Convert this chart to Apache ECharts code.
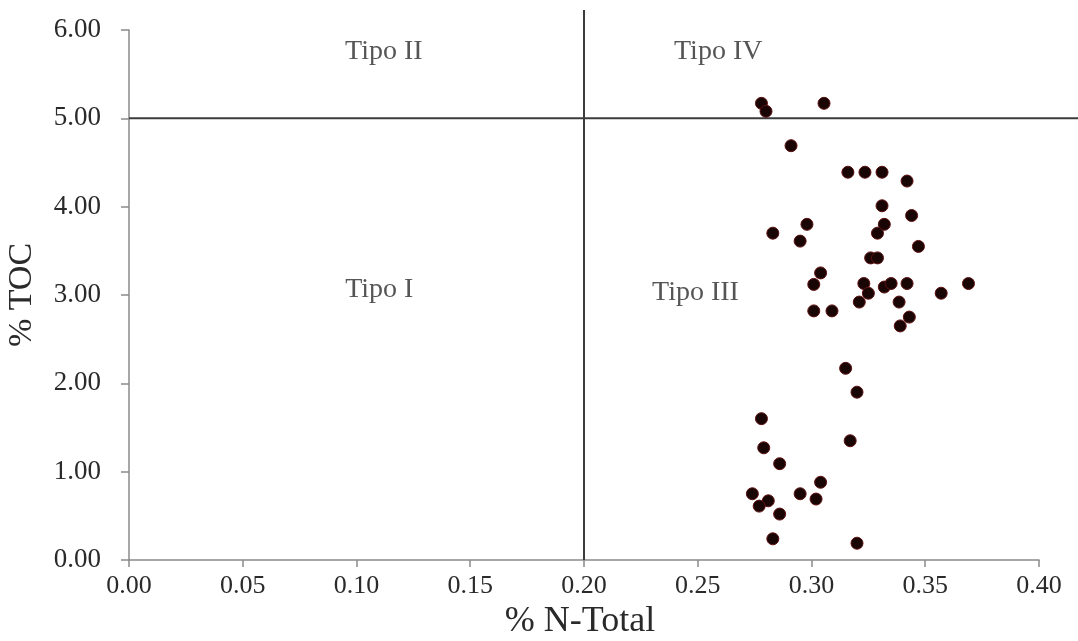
<!DOCTYPE html>
<html>
<head>
<meta charset="utf-8">
<script src="https://cdn.jsdelivr.net/npm/echarts@6/dist/echarts.min.js"></script>
<style>
  html, body { margin: 0; padding: 0; background: #ffffff; }
  #chart { width: 1078px; height: 641px; }
</style>
</head>
<body>
<div id="chart"></div>
<script>
// Total nitrogen (%) and total organic carbon (%) per sample
const nTotal = [
  0.278, 0.280, 0.3055, 0.291, 0.316, 0.3235, 0.331, 0.342, 0.331, 0.344,
  0.298, 0.332, 0.283, 0.329, 0.295, 0.347, 0.326, 0.329, 0.304, 0.301,
  0.323, 0.325, 0.332, 0.335, 0.342, 0.321, 0.3385, 0.357, 0.369, 0.301,
  0.309, 0.343, 0.339, 0.315, 0.320, 0.278, 0.317, 0.279, 0.286, 0.304,
  0.274, 0.295, 0.281, 0.277, 0.302, 0.286, 0.283, 0.320
];
const toc = [
  5.17, 5.08, 5.17, 4.69, 4.39, 4.39, 4.39, 4.29, 4.01, 3.90,
  3.80, 3.80, 3.70, 3.70, 3.61, 3.55, 3.42, 3.42, 3.25, 3.12,
  3.13, 3.02, 3.09, 3.13, 3.13, 2.92, 2.92, 3.02, 3.13, 2.82,
  2.82, 2.75, 2.65, 2.17, 1.90, 1.60, 1.35, 1.27, 1.09, 0.88,
  0.75, 0.75, 0.67, 0.61, 0.69, 0.52, 0.24, 0.19
];

// Quadrant names and where they sit (in data units)
const quadrantNames = ['Tipo II', 'Tipo IV', 'Tipo I', 'Tipo III'];
const quadrantX = [0.112, 0.259, 0.110, 0.249];
const quadrantY = [5.75, 5.75, 3.06, 3.03];

// Dividing thresholds
const nThreshold = 0.20;
const tocThreshold = 5.00;

const xTicks = { min: 0, max: 0.40, interval: 0.05 };
const yTicks = { min: 0, max: 6, interval: 1 };

const serif = '"Liberation Serif", "Times New Roman", serif';
const axisGray = '#8a8a8a';
const textColor = '#2a2a2a';

const chart = echarts.init(document.getElementById('chart'), null, { renderer: 'canvas' });

const points = nTotal.map((v, i) => [v, toc[i]]);
const labels = quadrantNames.map((n, i) => ({ name: n, value: [quadrantX[i], quadrantY[i]] }));

chart.setOption({
  animation: false,
  backgroundColor: '#ffffff',
  grid: { left: 129, right: 39, top: 30, bottom: 81, containLabel: false, outerBoundsMode: 'none' },
  xAxis: {
    type: 'value',
    min: xTicks.min, max: xTicks.max, interval: xTicks.interval,
    name: '% N-Total',
    nameLocation: 'middle',
    nameGap: 41,
    nameTextStyle: { fontFamily: serif, fontSize: 36, color: textColor, padding: [0, 8, 0, 0] },
    axisLine: { show: true, onZero: false, lineStyle: { color: axisGray, width: 1.5 } },
    axisTick: { show: true, inside: false, length: 7, lineStyle: { color: axisGray, width: 1.5 } },
    axisLabel: {
      fontFamily: serif, fontSize: 26, color: textColor, margin: 13,
      formatter: v => v.toFixed(2)
    },
    splitLine: { show: false }
  },
  yAxis: {
    type: 'value',
    min: yTicks.min, max: yTicks.max, interval: yTicks.interval,
    name: '% TOC',
    nameLocation: 'middle',
    nameRotate: 90,
    nameGap: 90,
    nameTextStyle: { fontFamily: serif, fontSize: 34, color: textColor },
    axisLine: { show: true, onZero: false, lineStyle: { color: axisGray, width: 1.5 } },
    axisTick: { show: true, inside: false, length: 8, lineStyle: { color: axisGray, width: 1.5 } },
    axisLabel: {
      fontFamily: serif, fontSize: 27, color: textColor, margin: 28,
      formatter: v => v.toFixed(2)
    },
    splitLine: { show: false }
  },
  series: [
    {
      type: 'scatter',
      data: points,
      symbol: 'circle',
      symbolSize: 12,
      itemStyle: { color: '#1a0505', borderColor: '#5e1010', borderWidth: 1, opacity: 1 },
      z: 5
    },
    {
      type: 'scatter',
      data: labels,
      symbolSize: 0,
      silent: true,
      label: {
        show: true,
        position: 'inside',
        formatter: p => p.name,
        fontFamily: serif,
        fontSize: 28,
        color: textColor
      },
      z: 4
    }
  ]
});

// Threshold lines reach past the plot area: up to near the top edge and out to the right edge
const pBottom = chart.convertToPixel({ gridIndex: 0 }, [nThreshold, yTicks.min]);
const pTop = chart.convertToPixel({ gridIndex: 0 }, [nThreshold, yTicks.max]);
const pLeft = chart.convertToPixel({ gridIndex: 0 }, [xTicks.min, tocThreshold]);
const lineColor = '#3c3c3c';

chart.setOption({
  graphic: [
    {
      type: 'line',
      shape: { x1: pBottom[0], y1: pBottom[1], x2: pTop[0], y2: pTop[1] - 20 },
      style: { stroke: lineColor, lineWidth: 2 },
      z: 3
    },
    {
      type: 'line',
      shape: { x1: pLeft[0], y1: pLeft[1], x2: chart.getWidth(), y2: pLeft[1] },
      style: { stroke: lineColor, lineWidth: 2 },
      z: 3
    }
  ]
});
</script>
</body>
</html>
